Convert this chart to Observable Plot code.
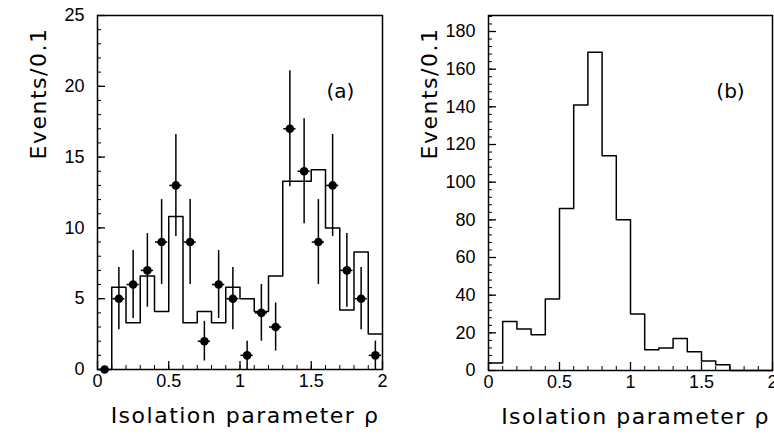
<!DOCTYPE html>
<html>
<head>
<meta charset="utf-8">
<script src="https://cdn.jsdelivr.net/npm/d3@7"></script>
<script src="https://cdn.jsdelivr.net/npm/@observablehq/plot@0.6"></script>
<style>
  html, body { margin: 0; padding: 0; background: #fff; }
  #wrap { position: relative; width: 774px; height: 439px; overflow: hidden; }
  #pa, #pb { position: absolute; top: 0; }
  #pa { left: 0; }
  #pb { left: 390px; }
  svg { overflow: visible; }
</style>
</head>
<body>
<div id="wrap"><div id="pa"></div><div id="pb"></div></div>
<script>
// Bin lower edges (width 0.1)
const binLo = [0, 0.1, 0.2, 0.3, 0.4, 0.5, 0.6, 0.7, 0.8, 0.9, 1.0, 1.1, 1.2, 1.3, 1.4, 1.5, 1.6, 1.7, 1.8, 1.9];
const binHi = [0.1, 0.2, 0.3, 0.4, 0.5, 0.6, 0.7, 0.8, 0.9, 1.0, 1.1, 1.2, 1.3, 1.4, 1.5, 1.6, 1.7, 1.8, 1.9, 2.0];
const binCenter = [0.05, 0.15, 0.25, 0.35, 0.45, 0.55, 0.65, 0.75, 0.85, 0.95, 1.05, 1.15, 1.25, 1.35, 1.45, 1.55, 1.65, 1.75, 1.85, 1.95];

// Panel (a): data points with error bars
const dataA = [0, 5, 6, 7, 9, 13, 9, 2, 6, 5, 1, 4, 3, 17, 14, 9, 13, 7, 5, 1];
const errLoA = [0, 2.8, 3.6, 4.4, 6.0, 9.4, 6.0, 0.6, 3.6, 2.8, 0, 2.0, 1.3, 12.9, 10.3, 6.0, 9.4, 4.4, 2.8, 0];
const errHiA = [0, 7.2, 8.4, 9.6, 12.0, 16.6, 12.0, 3.4, 8.4, 7.2, 2.0, 6.0, 4.7, 21.1, 17.7, 12.0, 16.6, 9.6, 7.2, 2.0];
// Panel (a): expectation histogram
const histA = [0, 5.8, 3.3, 6.6, 4.1, 10.8, 3.3, 4.1, 3.3, 5.8, 5.0, 4.1, 6.6, 13.3, 13.3, 14.1, 10.0, 4.2, 8.3, 2.5];
// Panel (b): histogram
const histB = [4, 26, 22, 19, 38, 86, 141, 169, 114, 80, 30, 11, 12, 17, 10, 5, 3, 0, 0, 0];

const xTicks = [0, 0.5, 1, 1.5, 2];
const yTicksA = [0, 5, 10, 15, 20, 25];
const yTicksB = [0, 20, 40, 60, 80, 100, 120, 140, 160, 180];

const xTitle = "Isolation parameter ρ";
const yTitle = "Events/0.1";

const tickFont = "Liberation Sans, Arial, sans-serif";
const titleFont = "DejaVu Sans, sans-serif";
const H = 439;

function stepData(vals) {
  const pts = binLo.map((x, i) => ({x, y: vals[i]}));
  pts.push({x: binHi[binHi.length - 1], y: vals[vals.length - 1]});
  return pts;
}

function panel({width, ml, mr, mt, mb, ymax, yTicks, yMinorStep, hist, points, tag}) {
  const fw = width - ml - mr;
  const fh = H - mt - mb;
  const xMinor = d3.range(0, 2.0001, 0.1);
  const yMinor = d3.range(0, ymax + 0.0001, yMinorStep);
  const marks = [
    Plot.frame({stroke: "black", strokeWidth: 1.5}),
    // inward y ticks
    Plot.ruleY(yMinor, {y: d => d, insetRight: fw - 4, stroke: "black", strokeWidth: 1}),
    Plot.ruleY(yTicks, {y: d => d, insetRight: fw - 8, stroke: "black", strokeWidth: 1.3}),
    // inward x ticks
    Plot.ruleX(xMinor, {x: d => d, insetTop: fh - 4, stroke: "black", strokeWidth: 1}),
    Plot.ruleX(xTicks, {x: d => d, insetTop: fh - 8, stroke: "black", strokeWidth: 1.3}),
    Plot.axisX({ticks: xTicks, tickSize: 0, tickPadding: 5, fontSize: 18, fontFamily: tickFont, tickFormat: d => String(d), label: null}),
    Plot.axisY({ticks: yTicks, tickSize: 0, tickPadding: 13, fontSize: 18, fontFamily: tickFont, tickFormat: d => String(d), label: null}),
    Plot.line(stepData(hist), {x: "x", y: "y", curve: "step-after", stroke: "black", strokeWidth: 1.5}),
    Plot.text([xTitle], {text: d => d, frameAnchor: "bottom", dy: 53, dx: 5, fontSize: 22, fontFamily: titleFont, fill: "black"}),
    Plot.text([yTitle], {text: d => d, frameAnchor: "top-left", rotate: -90, dx: -67, dy: 78, textAnchor: "middle", fontSize: 22, fontFamily: titleFont, fill: "black"}),
    Plot.text([tag], {text: d => d, frameAnchor: "top-right", dx: -42, dy: 68, textAnchor: "middle", fontSize: 20, fontFamily: titleFont, fill: "black"})
  ];
  if (points) {
    marks.push(
      Plot.ruleX(points, {x: "xc", y1: "lo", y2: "hi", stroke: "black", strokeWidth: 1.5}),
      Plot.ruleY(points.filter(d => d.n > 0), {y: "n", x1: "x0", x2: "x1", insetLeft: 1, insetRight: 1, stroke: "black", strokeWidth: 1.5}),
      Plot.dot(points, {x: "xc", y: "n", r: 4.3, fill: "black", stroke: "none"})
    );
  }
  const svg = Plot.plot({
    width, height: H,
    marginLeft: ml, marginRight: mr, marginTop: mt, marginBottom: mb,
    x: {domain: [0, 2]},
    y: {domain: [0, ymax]},
    style: {background: "white", color: "black"},
    marks
  });
  d3.select(svg).selectAll("text").filter(function() {
    const t = this.textContent;
    return t === xTitle || t === yTitle;
  }).style("letter-spacing", "1.5px");
  return svg;
}

const pointsA = binCenter.map((xc, i) => ({xc, x0: binLo[i], x1: binHi[i], n: dataA[i], lo: errLoA[i], hi: errHiA[i]}));

document.getElementById("pa").appendChild(panel({
  width: 390, ml: 97, mr: 8, mt: 15, mb: 70, ymax: 25, yTicks: yTicksA, yMinorStep: 1,
  hist: histA, points: pointsA, tag: "(a)"
}));
document.getElementById("pb").appendChild(panel({
  width: 384, ml: 98, mr: 2, mt: 15, mb: 69, ymax: 188.5, yTicks: yTicksB, yMinorStep: 4,
  hist: histB, points: null, tag: "(b)"
}));
</script>
</body>
</html>
